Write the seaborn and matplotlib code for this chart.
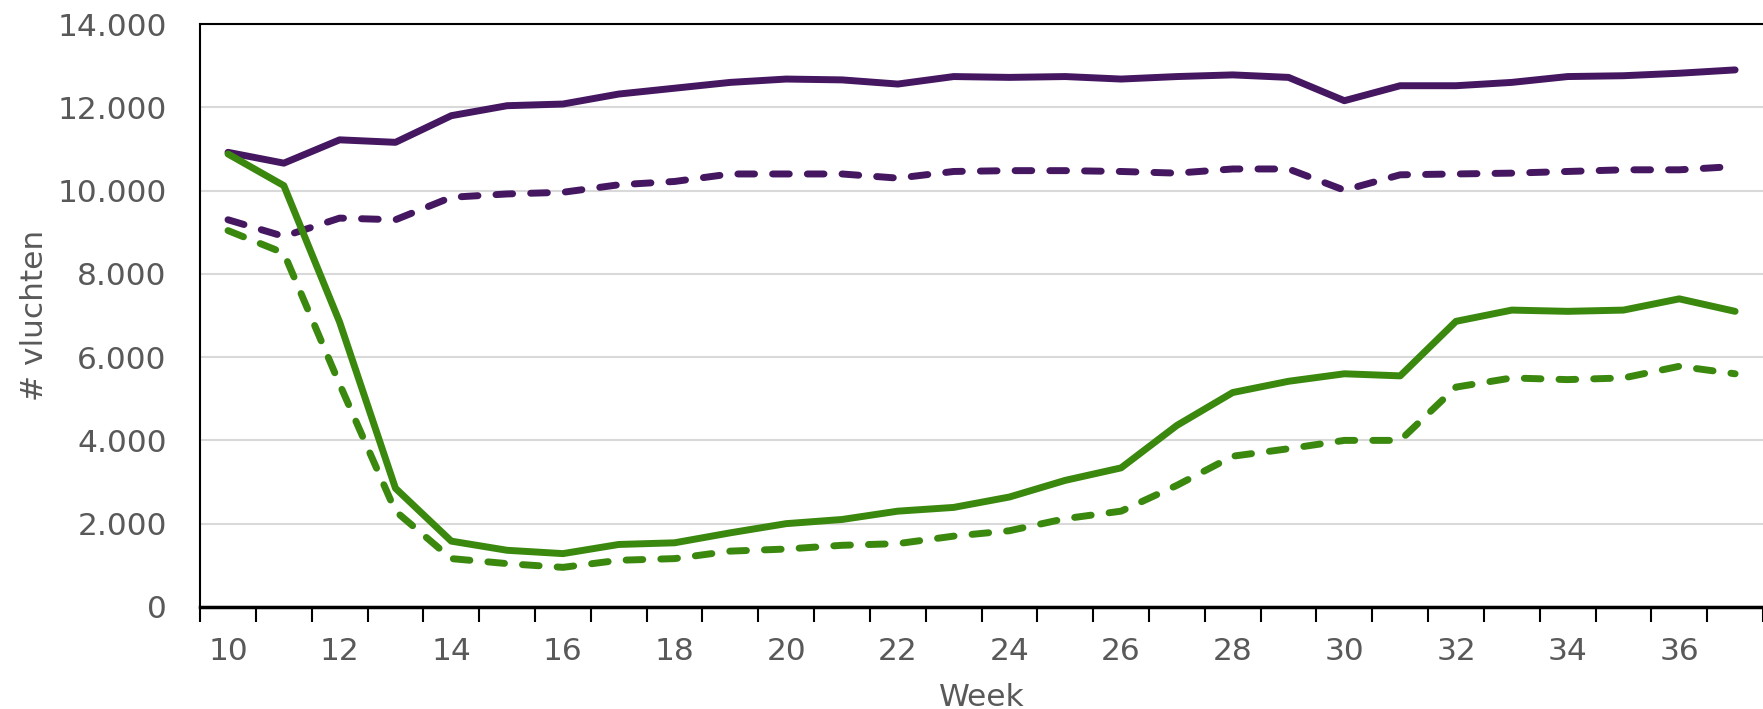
import seaborn as sns
import matplotlib.pyplot as plt
import matplotlib.ticker as mticker
import numpy as np

weeks = list(range(10, 38))

# purple solid / dashed, green solid / dashed (# vluchten per week)
purple_solid = [10920, 10660, 11220, 11160, 11800, 12040, 12080, 12320, 12460, 12600,
                12680, 12660, 12560, 12740, 12720, 12740, 12680, 12740, 12780, 12720,
                12160, 12520, 12520, 12600, 12740, 12760, 12820, 12900]
purple_dashed = [9300, 8900, 9340, 9300, 9840, 9920, 9960, 10140, 10220, 10400,
                 10400, 10400, 10300, 10460, 10480, 10480, 10460, 10420, 10520, 10520,
                 10010, 10380, 10400, 10420, 10460, 10500, 10500, 10580]
green_solid = [10880, 10120, 6840, 2850, 1580, 1360, 1280, 1500, 1540, 1780,
               2000, 2100, 2300, 2390, 2640, 3040, 3340, 4360, 5150, 5420,
               5600, 5550, 6860, 7130, 7100, 7130, 7400, 7100]
green_dashed = [9040, 8500, 5350, 2300, 1160, 1040, 950, 1120, 1160, 1340,
                1390, 1480, 1520, 1700, 1830, 2120, 2300, 2920, 3620, 3800,
                4000, 4000, 5280, 5500, 5460, 5500, 5780, 5600]

PURPLE = "#451761"
GREEN = "#3b880f"
GREY = "#595959"

sns.set_style("white")
plt.rcParams["font.family"] = ["DejaVu Sans"]

fig = plt.figure(figsize=(17.63, 7.09), dpi=100)
ax = fig.add_axes([0.1135, 0.144, 1.0 - 0.1135, 0.822])

ax.yaxis.grid(True, color="#d9d9d9", linewidth=1.5)
ax.set_axisbelow(True)

dash = (0, (2.4, 2.6))
common = dict(linewidth=5, solid_capstyle="round", dash_capstyle="round",
              solid_joinstyle="round", dash_joinstyle="round")
sns.lineplot(x=weeks, y=purple_solid, color=PURPLE, ax=ax, **common)
sns.lineplot(x=weeks, y=purple_dashed, color=PURPLE, linestyle=dash, ax=ax, **common)
sns.lineplot(x=weeks, y=green_solid, color=GREEN, ax=ax, **common)
sns.lineplot(x=weeks, y=green_dashed, color=GREEN, linestyle=dash, ax=ax, **common)

ax.set_xlim(9.5, 37.14)
ax.set_ylim(0, 14000)
ax.set_yticks(np.arange(0, 14001, 2000))
ax.yaxis.set_major_formatter(mticker.FuncFormatter(lambda v, p: f"{int(v):,}".replace(",", ".")))

ax.set_xticks(list(range(10, 37, 2)))
ax.set_xticks(np.arange(9.5, 38, 1), minor=True)
ax.tick_params(axis="x", which="both", bottom=True)
ax.tick_params(axis="x", which="major", length=0, pad=22, labelsize=22.5, labelcolor=GREY)
ax.tick_params(axis="x", which="minor", length=11, width=1.5, color="black", direction="out")
ax.tick_params(axis="y", length=0, pad=24, labelsize=22.5, labelcolor=GREY)

for side in ["left", "bottom", "top"]:
    ax.spines[side].set_color("black")
    ax.spines[side].set_linewidth(1.5)
ax.spines["bottom"].set_linewidth(2.5)
ax.spines["right"].set_visible(False)

ax.set_xlabel("Week", fontsize=22.5, color=GREY, labelpad=12)
ax.set_ylabel("# vluchten", fontsize=22.5, color=GREY, labelpad=6)

plt.savefig("out.png", dpi=100)
